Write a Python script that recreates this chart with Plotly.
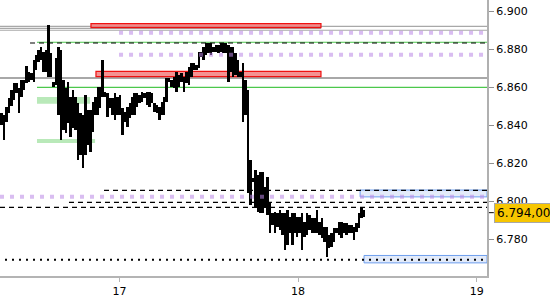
import plotly.graph_objects as go

# ---------------- data ----------------
bar_start = 16.343      # time (day) of first bar
bar_step = 0.01378      # bar interval in days

highs = [6846.4, 6845.3, 6849.5, 6854.3, 6858.5, 6862.1, 6862.1, 6859.5, 6863.7, 6863.7,
         6871.1, 6867.9, 6867.4, 6874.2, 6876.9, 6879.5, 6881.1, 6878.4, 6879.5, 6892.6,
         6877.9, 6862.7, 6875.3, 6881.1, 6879.5, 6863.7, 6859.5, 6862.7, 6854.8, 6858.5,
         6854.8, 6851.6, 6846.4, 6845.3, 6855.8, 6847.9, 6847.9, 6852.1, 6854.8, 6860.0,
         6860.0, 6874.2, 6857.4, 6856.9, 6854.3, 6854.3, 6856.9, 6854.8, 6855.8, 6849.0,
         6846.9, 6849.5, 6851.6, 6854.8, 6856.9, 6856.9, 6855.8, 6857.4, 6856.9, 6857.4,
         6857.4, 6856.9, 6851.6, 6850.6, 6849.5, 6852.1, 6854.8, 6864.8, 6864.8, 6863.7,
         6865.3, 6867.9, 6866.3, 6867.4, 6865.3, 6867.9, 6870.6, 6872.7, 6872.7, 6871.6,
         6878.4, 6878.4, 6881.1, 6883.2, 6883.2, 6883.2, 6881.1, 6882.1, 6882.1, 6883.2,
         6883.2, 6883.2, 6882.1, 6881.1, 6881.1, 6877.9, 6874.2, 6867.9, 6872.7, 6863.7,
         6858.5, 6821.6, 6812.2, 6816.4, 6813.7, 6815.3, 6815.3, 6807.4, 6812.7, 6799.5,
         6793.8, 6794.3, 6793.8, 6795.3, 6793.8, 6793.8, 6795.3, 6791.7, 6793.8, 6793.8,
         6791.7, 6791.7, 6793.8, 6789.0, 6793.8, 6792.7, 6791.1, 6791.1, 6795.3, 6789.0,
         6791.1, 6786.4, 6786.4, 6782.2, 6783.2, 6785.9, 6785.9, 6789.0, 6789.0, 6788.5,
         6788.5, 6787.4, 6787.4, 6786.4, 6788.5, 6793.8, 6796.4, 6795.3]

lows = [6840.0, 6832.2, 6841.6, 6846.4, 6850.0, 6853.2, 6856.9, 6846.4, 6854.8, 6858.5,
        6862.1, 6862.7, 6863.7, 6862.7, 6869.0, 6873.2, 6874.2, 6867.9, 6867.9, 6865.3,
        6865.3, 6860.0, 6861.1, 6845.3, 6832.2, 6837.4, 6835.8, 6841.1, 6833.7, 6838.5,
        6837.4, 6821.6, 6824.3, 6817.4, 6824.3, 6829.5, 6825.8, 6836.4, 6845.3, 6845.3,
        6849.0, 6854.8, 6854.8, 6844.3, 6849.0, 6845.3, 6842.7, 6845.3, 6845.3, 6834.8,
        6841.6, 6839.0, 6843.7, 6845.3, 6845.3, 6849.5, 6851.6, 6852.1, 6854.3, 6850.6,
        6849.5, 6851.6, 6846.9, 6846.4, 6842.7, 6845.3, 6845.3, 6852.1, 6862.7, 6860.0,
        6859.5, 6857.4, 6860.0, 6862.7, 6857.4, 6862.1, 6861.1, 6865.3, 6869.0, 6869.0,
        6870.0, 6875.8, 6874.2, 6876.9, 6877.9, 6876.9, 6878.4, 6878.4, 6877.9, 6878.4,
        6877.9, 6877.9, 6862.7, 6867.9, 6865.3, 6866.3, 6865.3, 6865.3, 6841.6, 6845.3,
        6804.3, 6798.0, 6810.1, 6796.9, 6794.3, 6793.8, 6793.8, 6796.9, 6792.7, 6783.2,
        6787.4, 6783.2, 6786.4, 6784.8, 6782.2, 6774.3, 6776.9, 6783.2, 6776.9, 6783.2,
        6781.1, 6783.2, 6774.3, 6781.1, 6782.2, 6784.8, 6783.2, 6783.2, 6783.2, 6782.2,
        6780.6, 6778.5, 6770.6, 6775.4, 6775.9, 6778.5, 6783.2, 6782.2, 6780.6, 6783.2,
        6782.2, 6783.2, 6783.2, 6779.6, 6783.8, 6785.9, 6791.1, 6791.7]

last_price = 6794.0

x_ticks = [17, 18, 19]
y_ticks = [6780, 6800, 6820, 6840, 6860, 6880, 6900]
x_range = [16.332, 19.057]
y_range = [6760.7, 6905.8]

# horizontal levels: (start time, price)
gray_lines = [(16.332, 6891.9), (16.332, 6889.9)]
gray_line_short = (16.332, 18.128, 6890.9)
gray_thick = (16.332, 6864.8)
green_lines = [(16.539, 6883.6), (16.539, 6859.9)]
black_dashed = [(16.500, 6883.2), (16.914, 6805.7), (16.718, 6799.4), (16.332, 6796.8)]
black_dotted = [(16.360, 6769.2)]
purple_dotted = [(16.998, 6888.6), (16.998, 6877.0), (16.332, 6802.3)]
red_zones = [(16.841, 18.128, 6891.3, 6893.4), (16.869, 18.128, 6865.5, 6868.3)]
green_zones = [(16.539, 16.836, 6851.2, 6854.8), (16.539, 16.864, 6830.6, 6832.7)]
blue_zones = [(18.347, 6802.3, 6805.9), (18.369, 6767.6, 6771.5)]

# ---------------- figure ----------------
times = [bar_start + i * bar_step for i in range(len(highs))]
spans = [h - l for h, l in zip(highs, lows)]

fig = go.Figure()
fig.add_trace(go.Bar(
    x=times, y=spans, base=lows,
    width=bar_step * 0.8,
    marker=dict(color="black", line=dict(width=0)),
    hoverinfo="skip",
))

shapes = []
xend = x_range[1]

for (x0, x1, y0, y1) in green_zones:
    shapes.append(dict(type="rect", xref="x", yref="y", x0=x0, x1=x1, y0=y0, y1=y1,
                       fillcolor="#b9e9b9", line=dict(width=0), layer="below"))
for (x0, y0, y1) in blue_zones:
    shapes.append(dict(type="rect", xref="x", yref="y", x0=x0, x1=xend, y0=y0, y1=y1,
                       fillcolor="#e3ebfa", line=dict(color="#6d9eee", width=1), layer="below"))
for (x0, y) in gray_lines:
    shapes.append(dict(type="line", xref="x", yref="y", x0=x0, x1=xend, y0=y, y1=y,
                       line=dict(color="#a8a8a8", width=1.2), layer="below"))
shapes.append(dict(type="line", xref="x", yref="y", x0=gray_line_short[0], x1=gray_line_short[1],
                   y0=gray_line_short[2], y1=gray_line_short[2],
                   line=dict(color="#a8a8a8", width=1.2), layer="below"))
shapes.append(dict(type="line", xref="x", yref="y", x0=gray_thick[0], x1=xend,
                   y0=gray_thick[1], y1=gray_thick[1],
                   line=dict(color="#a8a8a8", width=2), layer="below"))
for (x0, y) in green_lines:
    shapes.append(dict(type="line", xref="x", yref="y", x0=x0, x1=xend, y0=y, y1=y,
                       line=dict(color="#4cc84c", width=1.2), layer="below"))
for (x0, y) in black_dashed:
    shapes.append(dict(type="line", xref="x", yref="y", x0=x0, x1=xend, y0=y, y1=y,
                       line=dict(color="black", width=1.2, dash="5px,4px"), layer="below"))
for (x0, y) in black_dotted:
    shapes.append(dict(type="line", xref="x", yref="y", x0=x0, x1=xend, y0=y, y1=y,
                       line=dict(color="black", width=2, dash="2px,5px"), layer="below"))
for (x0, x1, y0, y1) in red_zones:
    shapes.append(dict(type="rect", xref="x", yref="y", x0=x0, x1=x1, y0=y0, y1=y1,
                       fillcolor="rgba(240,110,110,0.75)", line=dict(color="#ee1111", width=1.2),
                       layer="below"))
for (x0, y) in purple_dotted:
    shapes.append(dict(type="line", xref="x", yref="y", x0=x0, x1=xend, y0=y, y1=y,
                       line=dict(color="rgba(185,135,230,0.55)", width=4, dash="4px,6px"),
                       layer="above"))
# tick next to the price label
shapes.append(dict(type="line", xref="paper", yref="y", x0=1.004, x1=1.014,
                   y0=last_price, y1=last_price, line=dict(color="black", width=1)))

fig.update_layout(
    width=550, height=300,
    margin=dict(l=0, r=63, t=0, b=24, pad=0),
    paper_bgcolor="white", plot_bgcolor="white",
    showlegend=False,
    separators=",.",
    bargap=0,
    font=dict(family="DejaVu Sans", size=11, color="black"),
    shapes=shapes,
    xaxis=dict(range=x_range, tickvals=x_ticks, ticktext=[str(v) for v in x_ticks],
               showgrid=False, zeroline=False, showline=True, linecolor="#b4b4b4",
               linewidth=1.5, ticks="outside", ticklen=4, tickcolor="#b4b4b4",
               tickfont=dict(size=11, color="black")),
    yaxis=dict(range=y_range, side="right", tickvals=y_ticks, tickformat=",.0f",
               showgrid=False, zeroline=False, showline=True, linecolor="#b0b0b0",
               linewidth=2, ticks="outside", ticklen=5, tickcolor="#909090",
               tickfont=dict(size=11, color="black")),
)

label = f"{last_price:,.2f}".replace(",", "X").replace(".", ",").replace("X", ".")
fig.add_annotation(xref="paper", yref="y", x=1.0144, y=last_price, xanchor="left",
                   yanchor="middle", text=label, showarrow=False,
                   font=dict(family="DejaVu Sans", size=12, color="black"),
                   bgcolor="#f7c600", bordercolor="#a8a8a8", borderwidth=1, borderpad=2)

fig.write_html("out.html")
